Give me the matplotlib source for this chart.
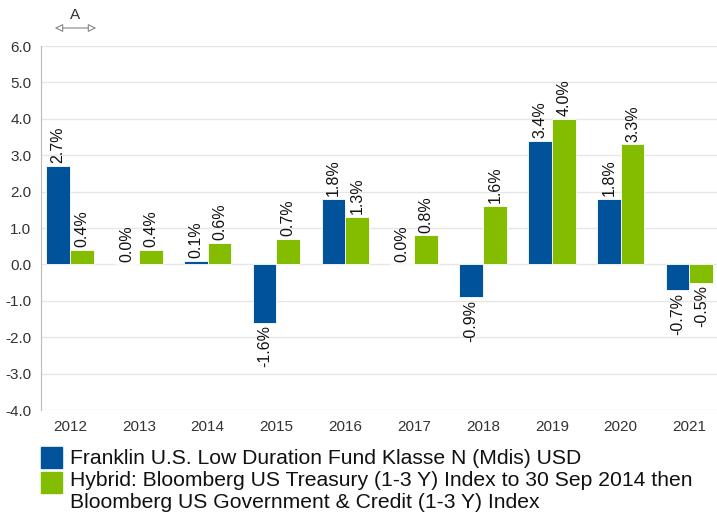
import matplotlib.pyplot as plt
from matplotlib.patches import Rectangle
import numpy as np

plt.rcParams['font.family'] = ['Liberation Sans', 'DejaVu Sans']

years = ['2012', '2013', '2014', '2015', '2016', '2017', '2018', '2019', '2020', '2021']
fund = [2.7, 0.0, 0.1, -1.6, 1.8, 0.0, -0.9, 3.4, 1.8, -0.7]
bench = [0.4, 0.4, 0.6, 0.7, 1.3, 0.8, 1.6, 4.0, 3.3, -0.5]
fund_name = 'Franklin U.S. Low Duration Fund Klasse N (Mdis) USD'
bench_name = ('Hybrid: Bloomberg US Treasury (1-3 Y) Index to 30 Sep 2014 then\n'
              'Bloomberg US Government & Credit (1-3 Y) Index')

blue = '#00539b'
green = '#84bd00'

W, H = 717, 519
fig = plt.figure(figsize=(W / 100, H / 100), dpi=100)
ax = fig.add_axes([41 / W, 1 - 410 / H, 1 - 41 / W, (410 - 46) / H])

x = np.arange(len(years))
w = 0.345
b1 = ax.bar(x - w / 2, fund, w, color=blue, edgecolor='white', linewidth=0.6, zorder=3)
b2 = ax.bar(x + w / 2, bench, w, color=green, edgecolor='white', linewidth=0.6, zorder=3)

for bars, vals in [(b1, fund), (b2, bench)]:
    for rect, v in zip(bars, vals):
        cx = rect.get_x() + rect.get_width() / 2
        if v >= 0:
            ax.annotate(f'{v:.1f}%', (cx, v), xytext=(0, 2), textcoords='offset points',
                        rotation=90, ha='center', va='bottom', fontsize=11.5, color='#111111')
        else:
            ax.annotate(f'{v:.1f}%', (cx, v), xytext=(0, -2), textcoords='offset points',
                        rotation=90, ha='center', va='top', fontsize=11.5, color='#111111')

ax.set_ylim(-4, 6)
ax.set_xlim(-0.42, 9.4)
ax.set_yticks(np.arange(-4, 7, 1))
ax.set_yticklabels([f'{t:.1f}' for t in np.arange(-4, 7, 1)])
ax.set_xticks(x)
ax.set_xticklabels(years)
ax.tick_params(length=0, labelsize=11, colors='#333333', pad=7)
ax.grid(axis='y', color='#e6e6e6', linewidth=1, zorder=0)
for s in ['top', 'right', 'bottom']:
    ax.spines[s].set_visible(False)
ax.spines['left'].set_color('#bbbbbb')

# "A" marker at the top left
fig.text(75 / W, 1 - 15 / H, 'A', ha='center', va='center', fontsize=11, color='#333333')
ax.annotate('', xy=(52 / W, 1 - 28 / H), xytext=(99 / W, 1 - 28 / H),
            xycoords='figure fraction', textcoords='figure fraction',
            arrowprops=dict(arrowstyle='<|-|>', color='#888888', fc='white', lw=0.8,
                            mutation_scale=12))

# legend drawn by hand
for (y0, y1), col in [((447, 468), blue), ((472, 493), green)]:
    fig.add_artist(Rectangle((41 / W, 1 - y1 / H), 21 / W, (y1 - y0) / H,
                             transform=fig.transFigure, color=col))
fig.text(70 / W, 1 - 458 / H, fund_name, ha='left', va='center', fontsize=15.2, color='#111111')
fig.text(70 / W, 1 - 471 / H, bench_name, ha='left', va='top', fontsize=15.2,
         color='#111111', linespacing=1.18)

fig.savefig('out.png', dpi=100)
